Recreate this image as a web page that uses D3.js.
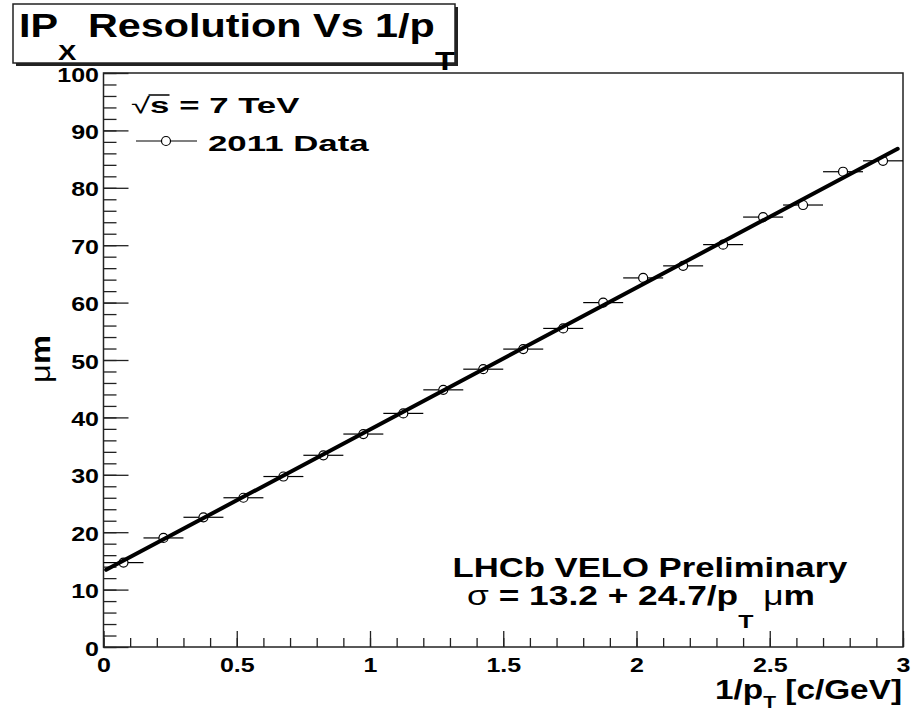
<!DOCTYPE html>
<html>
<head>
<meta charset="utf-8">
<script src="https://cdn.jsdelivr.net/npm/d3@7"></script>
<style>
  body { margin: 0; background: #fff; overflow: hidden; }
  svg { display: block; font-family: "Liberation Sans", Arial, sans-serif; font-weight: bold; }
  text { white-space: pre; }
</style>
</head>
<body>
<div id="chart"></div>
<script>
// bin centres of 1/pT [c/GeV] and measured IPx resolution [um]
var binCenters = [0.075, 0.225, 0.375, 0.525, 0.675, 0.825, 0.975, 1.125, 1.275, 1.425,
                  1.575, 1.725, 1.875, 2.025, 2.175, 2.325, 2.475, 2.625, 2.775, 2.925];
var binHalfWidth = 0.075;
var resolution = [14.7, 19.0, 22.6, 26.0, 29.7, 33.4, 37.1, 40.7, 44.8, 48.4,
                  51.9, 55.5, 60.0, 64.3, 66.4, 70.1, 74.9, 77.0, 82.8, 84.7];
// fit: sigma = a + b/pT
var fitIntercept = 13.2;
var fitSlope = 24.7;
var fitRange = [0.01, 2.98];

var xTicks = [0, 0.5, 1, 1.5, 2, 2.5, 3];
var xTickLabels = ["0", "0.5", "1", "1.5", "2", "2.5", "3"];
var yTicks = [0, 10, 20, 30, 40, 50, 60, 70, 80, 90, 100];
var yTickLabels = ["0", "10", "20", "30", "40", "50", "60", "70", "80", "90", "100"];

var W = 922, H = 714;
var frame = {left: 103.5, right: 903, top: 73, bottom: 647};

var svg = d3.select('#chart').append('svg')
  .attr('width', W)
  .attr('height', H);

var x = d3.scaleLinear().domain([0, 3]).range([frame.left, frame.right]);
var y = d3.scaleLinear().domain([0, 100]).range([frame.bottom, frame.top]);

// stretch a group horizontally about ax so that it spans w pixels
function stretch(g, ax, w) {
  var bb = g.node().getBBox();
  var s = w / bb.width;
  g.attr('transform', 'translate(' + ax + ',0) scale(' + s + ',1) translate(' + (-ax) + ',0)');
}

// frame
svg.append('rect')
  .attr('x', frame.left).attr('y', frame.top)
  .attr('width', frame.right - frame.left)
  .attr('height', frame.bottom - frame.top)
  .attr('fill', 'none')
  .attr('stroke', '#222')
  .attr('stroke-width', 1.5);

// x axis: ticks pointing up into the frame
var xMinor = svg.append('g')
  .attr('transform', 'translate(0,' + frame.bottom + ')')
  .call(d3.axisBottom(x).tickValues(d3.range(0, 31).map(function(i) { return i / 10; }))
    .tickSize(-9).tickFormat(''));
var xMajor = svg.append('g')
  .attr('transform', 'translate(0,' + frame.bottom + ')')
  .call(d3.axisBottom(x).tickValues(xTicks).tickSize(-16).tickPadding(11)
    .tickFormat(function(d, i) { return xTickLabels[i]; }));

// y axis: ticks pointing right into the frame
var yMinor = svg.append('g')
  .attr('transform', 'translate(' + frame.left + ',0)')
  .call(d3.axisLeft(y).tickValues(d3.range(0, 51).map(function(i) { return i * 2; }))
    .tickSize(-13).tickFormat(''));
var yMajor = svg.append('g')
  .attr('transform', 'translate(' + frame.left + ',0)')
  .call(d3.axisLeft(y).tickValues(yTicks).tickSize(-25).tickPadding(4.5)
    .tickFormat(function(d, i) { return yTickLabels[i]; }));

[xMinor, xMajor, yMinor, yMajor].forEach(function(a) {
  a.select('.domain').remove();
  a.selectAll('line').attr('stroke', '#222').attr('stroke-width', 1.3);
  a.attr('font-family', null).attr('font-size', null);
});

var labelStretch = 1.25;
xMajor.selectAll('text')
  .attr('fill', '#000')
  .style('font-size', '20px')
  .attr('transform', 'scale(' + labelStretch + ',1)');
yMajor.selectAll('text')
  .attr('fill', '#000')
  .attr('dy', '0.4em')
  .style('font-size', '20px')
  .each(function() {
    var t = d3.select(this), px = +t.attr('x');
    t.attr('transform', 'translate(' + px + ',0) scale(' + labelStretch + ',1) translate(' + (-px) + ',0)');
  });

// data: horizontal bin-width bars, open circles
var pts = d3.zip(binCenters, resolution);
var r = 4.5;
var data = svg.append('g');
data.selectAll('line.l')
  .data(pts).enter().append('line')
  .attr('x1', function(d) { return x(d[0] - binHalfWidth); })
  .attr('x2', function(d) { return x(d[0]) - r; })
  .attr('y1', function(d) { return y(d[1]); })
  .attr('y2', function(d) { return y(d[1]); })
  .attr('stroke', '#000').attr('stroke-width', 1.2);
data.selectAll('line.r')
  .data(pts).enter().append('line')
  .attr('x1', function(d) { return x(d[0]) + r; })
  .attr('x2', function(d) { return Math.min(x(d[0] + binHalfWidth), frame.right); })
  .attr('y1', function(d) { return y(d[1]); })
  .attr('y2', function(d) { return y(d[1]); })
  .attr('stroke', '#000').attr('stroke-width', 1.2);
data.selectAll('circle')
  .data(pts).enter().append('circle')
  .attr('cx', function(d) { return x(d[0]); })
  .attr('cy', function(d) { return y(d[1]); })
  .attr('r', r)
  .attr('fill', '#fff')
  .attr('stroke', '#000')
  .attr('stroke-width', 1.2);

// fit line
var fitLine = d3.line()
  .x(function(d) { return x(d); })
  .y(function(d) { return y(fitIntercept + fitSlope * d); });
svg.append('path')
  .datum(fitRange)
  .attr('d', fitLine)
  .attr('fill', 'none')
  .attr('stroke', '#000')
  .attr('stroke-width', 4)
  .attr('stroke-linecap', 'round');

// title box with shadow
svg.append('rect').attr('x', 16).attr('y', 7).attr('width', 442).attr('height', 59).attr('fill', '#222');
svg.append('rect').attr('x', 13).attr('y', 4).attr('width', 442).attr('height', 59)
  .attr('fill', '#fff').attr('stroke', '#222').attr('stroke-width', 1.5);
var titleG = svg.append('g');
var title = titleG.append('text').attr('x', 19).attr('y', 37).style('font-size', '33px');
title.append('tspan').text('IP');
title.append('tspan').attr('dy', 23).style('font-size', '22px').text('X');
title.append('tspan').attr('dy', -23).text(' Resolution Vs 1/p');
title.append('tspan').attr('dy', 33).style('font-size', '26px').text('T');
stretch(titleG, 19, 436);

// legend
var leg1 = svg.append('g');
var l1 = leg1.append('text').attr('x', 131).attr('y', 113).style('font-size', '22px');
l1.append('tspan').style('font-weight', 'normal').text('\u221A');
l1.append('tspan').text('s = 7 TeV');
var rootBox = l1.node().getExtentOfChar(0), sBox = l1.node().getExtentOfChar(1);
leg1.append('line')
  .attr('x1', rootBox.x + rootBox.width - 1).attr('x2', sBox.x + sBox.width)
  .attr('y1', rootBox.y + 2).attr('y2', rootBox.y + 2)
  .attr('stroke', '#000').attr('stroke-width', 1.5);
stretch(leg1, 131, 169);

svg.append('line').attr('x1', 136).attr('x2', 197).attr('y1', 141).attr('y2', 141)
  .attr('stroke', '#000').attr('stroke-width', 1.2);
svg.append('circle').attr('cx', 166).attr('cy', 141).attr('r', r)
  .attr('fill', '#fff').attr('stroke', '#000').attr('stroke-width', 1.2);
var leg2 = svg.append('g');
leg2.append('text').attr('x', 208).attr('y', 151).style('font-size', '22px').text('2011 Data');
stretch(leg2, 208, 162);

// LHCb labels
var lab1 = svg.append('g');
lab1.append('text').attr('x', 650).attr('y', 577).attr('text-anchor', 'middle')
  .style('font-size', '27px').text('LHCb VELO Preliminary');
stretch(lab1, 650, 395);

var lab2 = svg.append('g');
var t2 = lab2.append('text').attr('x', 641).attr('y', 605).attr('text-anchor', 'middle')
  .style('font-size', '27px');
t2.append('tspan').style('font-weight', 'normal').text('\u03C3');
t2.append('tspan').text(' = ' + fitIntercept + ' + ' + fitSlope + '/p');
t2.append('tspan').attr('dy', 23).style('font-size', '19px').text('T');
t2.append('tspan').attr('dy', -23).text(' ');
t2.append('tspan').style('font-weight', 'normal').text('\u03BC');
t2.append('tspan').text('m');
stretch(lab2, 641, 348);

// x axis title
var xt = svg.append('g');
var xtt = xt.append('text').attr('x', 902).attr('y', 699).attr('text-anchor', 'end')
  .style('font-size', '27px');
xtt.append('tspan').text('1/p');
xtt.append('tspan').attr('dy', 9).style('font-size', '17px').text('T');
xtt.append('tspan').attr('dy', -9).text(' [c/GeV]');
stretch(xt, 902, 187);

// y axis title
var yt = svg.append('g').attr('transform', 'translate(50,359) rotate(-90)');
var ytInner = yt.append('g');
var ytt = ytInner.append('text').attr('x', 0).attr('y', 0).attr('text-anchor', 'middle')
  .style('font-size', '27px');
ytt.append('tspan').style('font-weight', 'normal').text('\u03BC');
ytt.append('tspan').text('m');
stretch(ytInner, 0, 48);
</script>
</body>
</html>
